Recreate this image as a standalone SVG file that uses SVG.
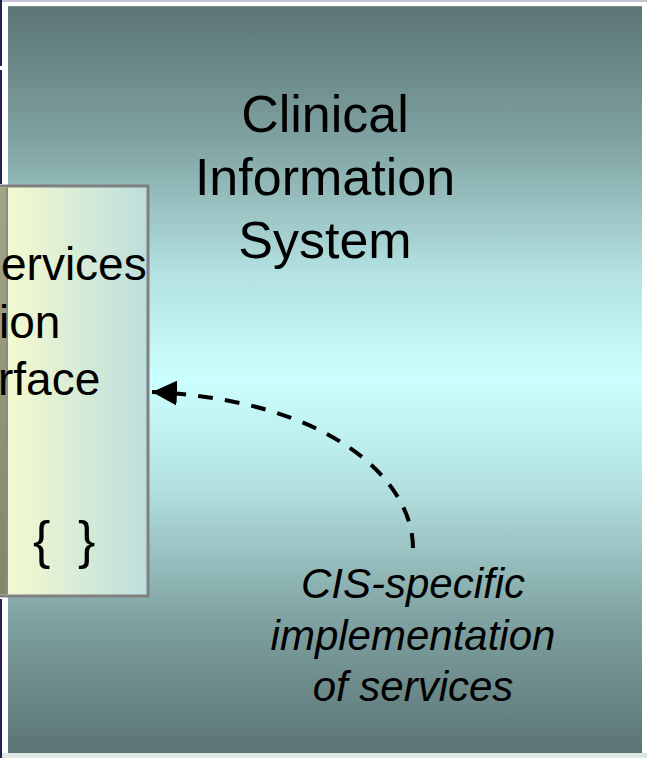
<svg xmlns="http://www.w3.org/2000/svg" width="647" height="758" viewBox="0 0 647 758">
  <style>
    .title { font-family: "Liberation Sans", Arial, sans-serif; font-size: 52px; fill: #000; text-anchor: middle; }
    .iface { font-family: "Liberation Sans", Arial, sans-serif; font-size: 46px; fill: #000; }
    .brace { font-family: "Liberation Sans", Arial, sans-serif; font-size: 52px; fill: #000; }
    .note { font-family: "Liberation Sans", Arial, sans-serif; font-size: 42px; font-style: italic; fill: #000; text-anchor: middle; }
    .dep { fill: none; stroke: #000; stroke-width: 4; stroke-dasharray: 15 12; }
  </style>
  <defs>
    <linearGradient id="cisFill" x1="0" y1="0" x2="0" y2="1">
      <stop offset="0" stop-color="#5b7474"/>
      <stop offset="0.18" stop-color="#80a2a2"/>
      <stop offset="0.36" stop-color="#b4e2e2"/>
      <stop offset="0.5" stop-color="#ccffff"/>
      <stop offset="0.64" stop-color="#b4e2e2"/>
      <stop offset="0.82" stop-color="#80a2a2"/>
      <stop offset="1" stop-color="#5b7474"/>
    </linearGradient>
    <linearGradient id="ifaceFill" x1="0" y1="0" x2="1" y2="0">
      <stop offset="0" stop-color="#ffffcc"/>
      <stop offset="1" stop-color="#bcdede"/>
    </linearGradient>
    <linearGradient id="edgeFill" x1="0" y1="0" x2="0" y2="1">
      <stop offset="0" stop-color="#a4a486"/>
      <stop offset="1" stop-color="#84846a"/>
    </linearGradient>
    <marker id="arrowHead" viewBox="0 0 25 25" refX="25" refY="12.5" markerWidth="25" markerHeight="25" markerUnits="userSpaceOnUse" orient="auto">
      <path d="M0,0 L25,12.5 L0,25 Z" fill="#000"/>
    </marker>
  </defs>

  <rect width="647" height="758" fill="#fff"/>
  <!-- page edges -->
  <rect x="0" y="0" width="647" height="2" fill="#c4c4d4"/>
  <rect x="0" y="753" width="647" height="5" fill="#dfe6e6"/>
  <rect x="0" y="0" width="2" height="66" fill="#22224e"/>
  <rect x="0" y="70" width="2" height="114" fill="#22224e"/>
  <rect x="0" y="599" width="2" height="159" fill="#22224e"/>

  <!-- Clinical Information System -->
  <g id="cis">
    <rect x="8" y="6" width="634" height="747" fill="url(#cisFill)"/>
    <rect x="8" y="6" width="634" height="1" fill="#7a8c8c"/>
    <text class="title" x="325" y="132">Clinical</text>
    <text class="title" x="325" y="195">Information</text>
    <text class="title" x="325" y="258">System</text>
  </g>

  <!-- services interface -->
  <g id="interface">
    <rect x="-20" y="186" width="168" height="410" fill="url(#ifaceFill)" stroke="#808080" stroke-width="3"/>
    <rect x="0" y="187.5" width="6" height="407" fill="url(#edgeFill)"/>
    <rect x="6" y="187.5" width="2" height="407" fill="#8a8a8a"/>
    <text class="iface" x="1" y="280">ervices</text>
    <text class="iface" x="-1" y="338">ion</text>
    <text class="iface" x="-2" y="395">rface</text>
    <text class="brace" x="33" y="558">{</text>
    <text class="brace" x="78" y="558">}</text>
  </g>

  <!-- implementation note -->
  <g id="implementation">
    <text class="note" x="413" y="598">CIS-specific</text>
    <text class="note" x="413" y="650">implementation</text>
    <text class="note" x="413" y="701">of services</text>
  </g>

  <g id="connectors">
    <path class="dep" d="M413,548 C413,480 330,400 152,392" marker-end="url(#arrowHead)"/>
  </g>
</svg>
